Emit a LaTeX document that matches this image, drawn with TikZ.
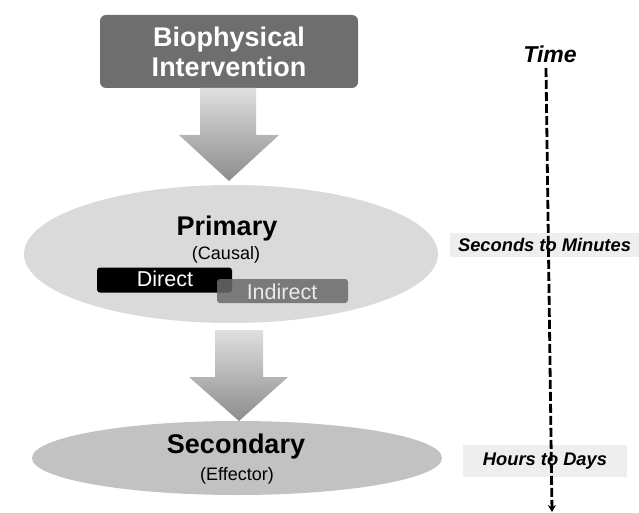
\documentclass[tikz,border=0pt]{standalone}
\usepackage{fontspec}
\setmainfont{Liberation Sans}
\usetikzlibrary{arrows.meta,shapes.geometric}
\definecolor{biofill}{HTML}{6E6E6E}
\definecolor{primfill}{HTML}{DADADA}
\definecolor{secfill}{HTML}{C2C2C2}
\definecolor{indfill}{HTML}{6A6A6A}
\definecolor{tlabel}{HTML}{EEEEEE}
\tikzset{
  bigarrow/.style={top color=#1, bottom color=black!45, draw=none},
  blob/.style={ellipse, draw=none, inner sep=0pt},
  subbox/.style={rounded corners=3pt, draw=none, text=white, font=\fontsize{21}{24}\selectfont, minimum height=25pt, inner sep=0pt},
  timebox/.style={fill=tlabel, draw=none, font=\fontsize{18.3}{20}\selectfont\bfseries\itshape, inner sep=0pt},
  timeline/.style={line width=2.8pt, dash pattern=on 9pt off 3pt, -{Stealth[length=7pt,width=8pt]}}
}
\begin{document}
\begin{tikzpicture}[x=1pt,y=-1pt]
\useasboundingbox (0,0) rectangle (639,513);
% Biophysical box
\node[fill=biofill, rounded corners=6pt, minimum width=258pt, minimum height=73pt, text=white,
      font=\fontsize{27}{30}\selectfont\bfseries, align=center, inner sep=0pt]
  (bio) at (229,51.5) {Biophysical\\Intervention};
% arrow 1
\shade[bigarrow=gray!25] (200,88) -- (256,88) -- (256,135) -- (279,135) -- (229,181) -- (179,135) -- (200,135) -- cycle;
% Primary ellipse
\node[blob, fill=primfill, minimum width=414pt, minimum height=138pt] (prim) at (231,254) {};
\node[font=\fontsize{27}{30}\selectfont\bfseries] (primt) at (227,229) {Primary};
\node[font=\fontsize{18}{20}\selectfont] (causal) at (226,255) {(Causal)};
\node[subbox, fill=black, minimum width=135pt] (direct) at (164.5,280) {};
\node[subbox, fill=indfill, fill opacity=0.85, minimum width=131pt, minimum height=24pt] (indirect) at (282.5,291) {};
\node[text=white, font=\fontsize{21.5}{24}\selectfont] (directt) at (165,279) {Direct};
\node[text=white!92!black, font=\fontsize{21.5}{24}\selectfont] (indirectt) at (282,292) {Indirect};
% arrow 2
\shade[bigarrow=gray!25] (215,330) -- (263,330) -- (263,377) -- (288,377) -- (239,421) -- (189,377) -- (215,377) -- cycle;
% Secondary ellipse
\node[blob, fill=secfill, minimum width=410pt, minimum height=74pt] (sec) at (237,458) {};
\node[font=\fontsize{27}{30}\selectfont\bfseries] (sect) at (236,447) {Secondary};
\node[font=\fontsize{18}{20}\selectfont] (eff) at (237,476) {(Effector)};
% time labels
\node[timebox, minimum width=189pt, minimum height=24pt] (stm) at (544.5,245) {Seconds to Minutes};
\node[timebox, minimum width=164pt, minimum height=32pt] (htd) at (545,461) {Hours to Days};
% time axis
\node[font=\fontsize{23}{26}\selectfont\bfseries\itshape] (time) at (550,54) {Time};
\coordinate (tbot) at (552,512);
\draw[timeline] (546,68) -- (tbot);
\end{tikzpicture}
\end{document}
